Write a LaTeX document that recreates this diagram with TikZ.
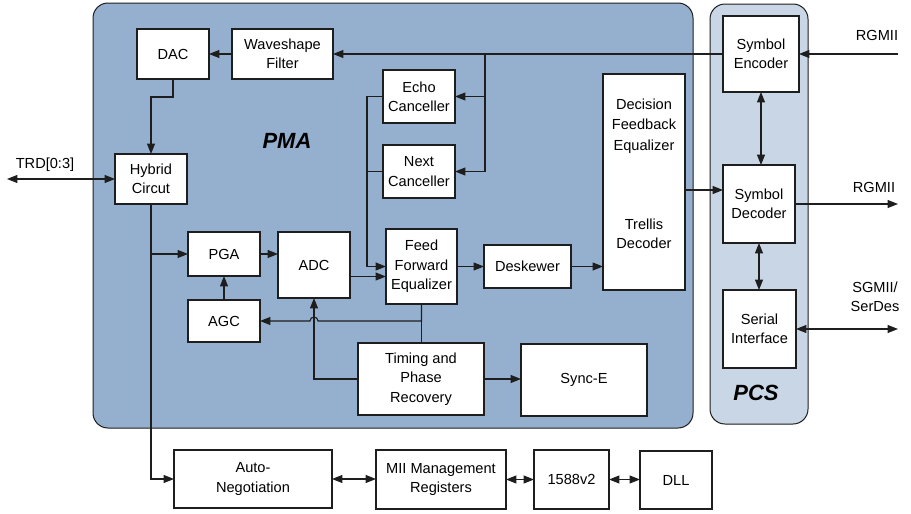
\documentclass[tikz,border=0pt]{standalone}
\usepackage{fontspec}
\setmainfont{Liberation Sans}
\usepackage{tikz}
\usetikzlibrary{arrows.meta}
\tikzstyle{diagram} = [x = 0.5pt, y = -0.5pt, >={Triangle[length=5.2pt, width=4pt]}]
\definecolor{pmaColor}{RGB}{149,176,207}
\definecolor{pcsColor}{RGB}{201,214,230}
\definecolor{lineColor}{RGB}{30,30,30}
\tikzstyle{regionStyle} = [draw=lineColor, line width=0.5pt, rounded corners = 7.5pt]
\tikzstyle{blockStyle} = [draw=lineColor, fill=white, line width=0.7pt, inner sep=0pt, outer sep=0pt, align=center, font=\fontsize{7.3}{9.7}\selectfont]
\tikzstyle{linkLine} = [color=lineColor, line width=0.55pt]
\tikzstyle{regionText} = [font=\fontsize{11}{13}\selectfont\bfseries\itshape]
\tikzstyle{portText} = [align=center, font=\fontsize{7.3}{9.7}\selectfont]
\newcommand{\block}[6]{\node [blockStyle, minimum width = (#4 - #2) * 0.5pt, minimum height = (#5 - #3) * 0.5pt] (#1) at ({(#2 + #4) / 2}, {(#3 + #5) / 2}) {#6};}

\begin{document}
\begin{tikzpicture}[diagram]
\useasboundingbox (0,0) rectangle (911,514);
\draw [regionStyle, fill=pmaColor] (93,3) rectangle (693,428);
\draw [regionStyle, fill=pcsColor] (710,4) rectangle (808,424);
\node [regionText] (pmaLabel) at (287,141) {PMA};
\node [regionText] (pcsLabel) at (756,393) {PCS};
\block{dac}{137}{29}{209}{79}{DAC}\block{wave}{232}{29}{333}{79}{Waveshape\\Filter}
\block{echo}{383}{70}{455}{123}{Echo\\Canceller}\block{next}{383}{145}{455}{198}{Next\\Canceller}
\block{hybrid}{115}{154}{187}{204}{Hybrid\\Circut}
\block{pga}{188}{232}{260}{276}{PGA}\block{adc}{278}{232}{350}{298}{ADC}\block{agc}{188}{300}{260}{342}{AGC}
\block{ffe}{386}{229}{457}{304}{Feed\\Forward\\Equalizer}
\block{desk}{484}{245}{571}{288}{Deskewer}
\block{dfe}{603}{74}{685}{290}{Decision\\[0.5pt]Feedback\\[0.5pt]Equalizer\\[30pt]Trellis\\Decoder\\[-1.6pt]{}}
\block{timing}{358}{343}{484}{415}{Timing and\\Phase\\Recovery}
\block{synce}{521}{344}{647}{416}{Sync-E}
\block{enc}{723}{16}{799}{92}{Symbol\\Encoder}\block{dec}{723}{165}{795}{243}{Symbol\\Decoder}\block{serial}{723}{290}{796}{368}{Serial\\Interface}
\block{autoneg}{174}{450}{332}{508}{Auto-\\Negotiation}\block{mii}{376}{450}{506}{509}{MII Management\\Registers}
\block{ptp}{534}{450}{609}{509}{1588v2}\block{dll}{640}{451}{712}{509}{DLL}
\node [portText] (trdLabel) at (45,165) {TRD[0:3]};
\node [portText] (rgmiiInLabel) at (877,35) {RGMII};
\node [portText] (rgmiiOutLabel) at (874,187) {RGMII};
\node [portText] (serdesLabel) at (875,297) {SGMII/\\SerDes};
\coordinate (trd) at (7,179);
\coordinate (rgmiiIn) at (898,54);
\coordinate (rgmiiOut) at (898,204);
\coordinate (serdes) at (898,329);
\coordinate (txSplit) at (485,54);
\coordinate (hop) at (314,321);
\draw [linkLine, <->] (trd) -- (hybrid.west);
\draw [linkLine, ->] (rgmiiIn) -- (enc.east);
\draw [linkLine, ->] (enc.west) -- (wave.east);
\draw [linkLine, ->] (txSplit) |- (echo.east);
\draw [linkLine, ->] (txSplit) |- (next.east);
\draw [linkLine, ->] (wave.west) -- (dac.east);
\draw [linkLine, ->] (dac.south) -- ++(0,18) -| (hybrid.north);
\draw [linkLine, ->] (hybrid.south) |- (autoneg.west);
\draw [linkLine, ->] (hybrid.south |- pga.west) -- (pga.west);
\draw [linkLine, ->] (pga.east) -- (pga.east -| adc.west);
\draw [linkLine, ->] (agc.north) -- (pga.south);
\draw [linkLine, ->] (echo.west) -- ++(-16,0) coordinate (echoBus) |- (ffe.west);
\draw [linkLine] (next.west) -- (next.west -| echoBus);
\coordinate (ffeLow) at ([yshift=-5pt]ffe.west);
\draw [linkLine, ->] (adc.east |- ffeLow) -- (ffeLow);
\draw [linkLine, ->] (ffe.east) -- (ffe.east -| desk.west);
\draw [linkLine, ->] (desk.east) -- (desk.east -| dfe.west);
\coordinate (decIn) at ([yshift=7pt]dec.west);
\draw [linkLine, ->] (dfe.east |- decIn) -- (decIn);
\draw [linkLine, <->] (enc.south) -- (enc.south |- dec.north);
\draw [linkLine, <->] (dec.south) -- (dec.south |- serial.north);
\draw [linkLine, ->] (dec.east) -- (dec.east -| rgmiiOut);
\draw [linkLine, <->] (serial.east) -- (serial.east -| serdes);
\draw [linkLine] (ffe.south) -- (ffe.south |- timing.north);
\draw [linkLine, ->] (ffe.south) |- ([xshift=2pt]hop) arc [start angle=0, end angle=180, radius=2pt] -- (agc.east);
\draw [linkLine, ->] (timing.west) -| (adc.south);
\draw [linkLine, ->] (timing.east) -- (timing.east -| synce.west);
\draw [linkLine, <->] (autoneg.east) -- (autoneg.east -| mii.west);
\draw [linkLine, <->] (mii.east) -- (mii.east -| ptp.west);
\draw [linkLine, <->] (ptp.east) -- (ptp.east -| dll.west);
\end{tikzpicture}
\end{document}
